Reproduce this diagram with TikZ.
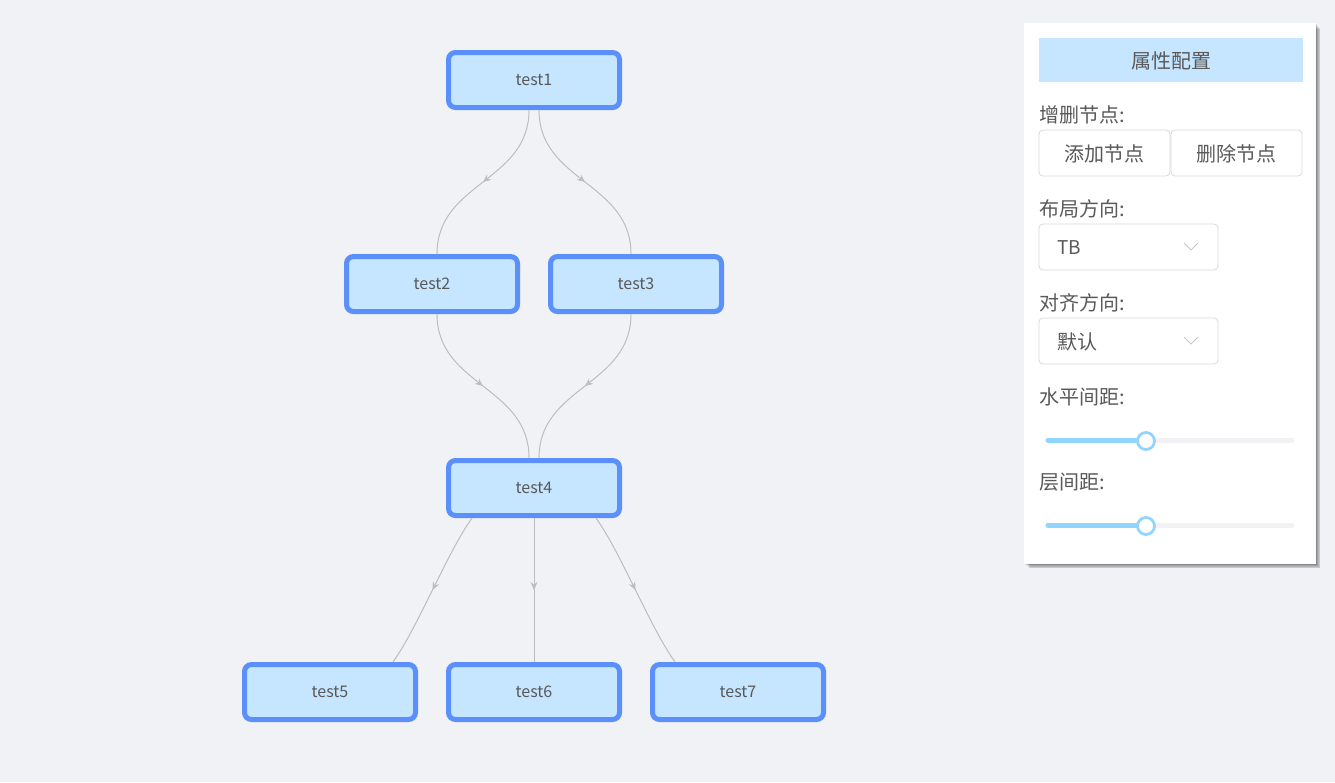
\documentclass[tikz,border=0pt]{standalone}
\usepackage{fontspec}
\newfontfamily\cjk{Noto Sans CJK SC}
\usetikzlibrary{arrows.meta,decorations.markings}
\definecolor{bgcol}{HTML}{F0F2F5}
\definecolor{nodeblue}{HTML}{5B8FF9}
\definecolor{nodefill}{HTML}{C6E5FF}
\definecolor{edgegray}{HTML}{BDBDBD}
\definecolor{txtgray}{HTML}{595959}
\definecolor{boxgray}{HTML}{D9D9D9}
\definecolor{slideblue}{HTML}{91D5FF}
\definecolor{trackgray}{HTML}{F2F2F5}
\begin{document}
\begin{tikzpicture}
    [x=1pt,y=-1pt,
    tnode/.style = {draw=nodeblue, line width=5pt, fill=nodefill,
                    rounded corners=7pt, minimum width=171pt, minimum height=55pt,
                    text=txtgray, font=\cjk\fontsize{16}{16}\selectfont},
    edge/.style = {draw=edgegray, line width=1pt, postaction={decorate},
                   decoration={markings, mark=at position 0.5 with
                   {\arrow{Stealth[length=8pt,width=7pt,fill=edgegray!90]}}}},
    lbl/.style = {anchor=west, inner sep=0pt, text=txtgray,
                  font=\cjk\fontsize{20}{20}\selectfont},
    btn/.style = {draw=boxgray, line width=0.8pt, rounded corners=4pt, fill=white}]
    \fill[bgcol] (0,0) rectangle (1335,782);
    \useasboundingbox (0,0) rectangle (1335,782);
    % Nodes
    \node[tnode] (test1) at (534,80) {test1};
    \node[tnode] (test2) at (432,284) {test2};
    \node[tnode] (test3) at (636,284) {test3};
    \node[tnode] (test4) at (534,488) {test4};
    \node[tnode] (test5) at (330,692) {test5};
    \node[tnode] (test6) at (534,692) {test6};
    \node[tnode] (test7) at (738,692) {test7};
    % Edges
    \draw[edge] ([xshift=-5pt]test1.south) .. controls +(0,72) and +(0,-72) .. ([xshift=5pt]test2.north);
    \draw[edge] ([xshift=5pt]test1.south) .. controls +(0,72) and +(0,-72) .. ([xshift=-5pt]test3.north);
    \draw[edge] ([xshift=5pt]test2.south) .. controls +(0,72) and +(0,-72) .. ([xshift=-5pt]test4.north);
    \draw[edge] ([xshift=-5pt]test3.south) .. controls +(0,72) and +(0,-72) .. ([xshift=5pt]test4.north);
    \draw[edge] ([xshift=-62pt]test4.south) .. controls +(-25,35) and +(25,-35) .. ([xshift=63pt]test5.north);
    \draw[edge] (test4.south) -- (test6.north);
    \draw[edge] ([xshift=62pt]test4.south) .. controls +(25,35) and +(-25,-35) .. ([xshift=-63pt]test7.north);
    % Panel with soft shadow
    \foreach \s in {1,...,6}
        \fill[black, opacity=0.09] (1024+\s,23+\s) rectangle (1316+\s*0.7,564+\s*0.7);
    \fill[white] (1024,23) rectangle (1316,564);
    \fill[nodefill] (1039,38) rectangle (1303,82);
    \node[text=txtgray, font=\cjk\fontsize{20}{20}\selectfont] (title) at (1171,61) {属性配置};
    \node[lbl] (addlbl) at (1039,115) {增删节点:};
    \draw[btn] (1039,130) rectangle (1170,176);
    \node[text=txtgray, font=\cjk\fontsize{20}{20}\selectfont] (addbtn) at (1104.5,154) {添加节点};
    \draw[btn] (1171,130) rectangle (1302,176);
    \node[text=txtgray, font=\cjk\fontsize{20}{20}\selectfont] (delbtn) at (1236.5,154) {删除节点};
    \node[lbl] (layoutlbl) at (1039,209) {布局方向:};
    \draw[btn] (1039,224) rectangle (1218,270);
    \node[lbl, font=\cjk\fontsize{19}{19}\selectfont] (tb) at (1057,248) {TB};
    \draw[boxgray!80!gray, line width=1pt] (1184,243) -- (1191,250) -- (1198,243);
    \node[lbl] (alignlbl) at (1039,303) {对齐方向:};
    \draw[btn] (1039,318) rectangle (1218,364);
    \node[lbl] (deflt) at (1057,342) {默认};
    \draw[boxgray!80!gray, line width=1pt] (1184,337) -- (1191,344) -- (1198,337);
    \node[lbl] (hlbl) at (1039,397) {水平间距:};
    \draw[trackgray, line width=5pt, line cap=round] (1048,440) -- (1292,440);
    \draw[slideblue, line width=5pt, line cap=round] (1048,440) -- (1146,440);
    \draw[slideblue, fill=white, line width=2.8pt] (1146,441) circle (8.5);
    \node[lbl] (vlbl) at (1039,482) {层间距:};
    \draw[trackgray, line width=5pt, line cap=round] (1048,525) -- (1292,525);
    \draw[slideblue, line width=5pt, line cap=round] (1048,525) -- (1146,525);
    \draw[slideblue, fill=white, line width=2.8pt] (1146,526) circle (8.5);
\end{tikzpicture}
\end{document}
